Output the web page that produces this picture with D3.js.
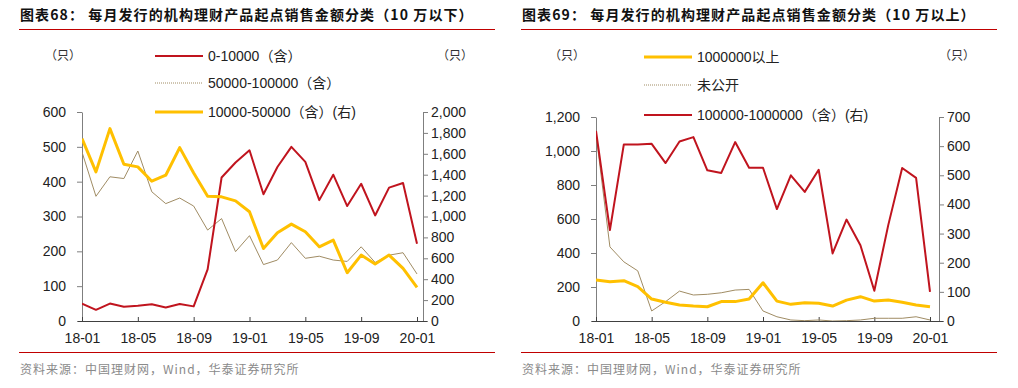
<!DOCTYPE html>
<html><head><meta charset="utf-8">
<script src="https://cdn.jsdelivr.net/npm/d3@7"></script>
<style>body{margin:0;background:#fff;}svg{display:block;}</style>
</head><body>
<svg id="c" width="1018" height="388"></svg>
<script>
const months = ["18-01","18-02","18-03","18-04","18-05","18-06","18-07","18-08","18-09","18-10","18-11","18-12",
  "19-01","19-02","19-03","19-04","19-05","19-06","19-07","19-08","19-09","19-10","19-11","19-12","20-01"];
const tickMonths = ["18-01","18-05","18-09","19-01","19-05","19-09","20-01"];

// Panel 68 (below 100k)
const s0_10000 = [50,32,50,41,44,48,39,49,42,148,412,455,490,364,442,500,457,347,420,330,394,303,383,396,222];
const s50000_100000 = [485,358,414,409,488,371,337,353,330,261,294,199,245,162,175,225,180,186,175,171,213,168,189,196,135];
const s10000_50000 = [1745,1427,1841,1500,1475,1338,1395,1659,1417,1194,1188,1150,1045,694,844,927,854,710,774,462,631,545,631,503,322];
const leftTicks68 = [0,100,200,300,400,500,600];
const rightTicks68 = [0,200,400,600,800,1000,1200,1400,1600,1800,2000];

// Panel 69 (above 100k)
const sAbove1m = [241,231,237,202,129,110,94,88,84,114,114,129,225,117,98,108,104,88,123,143,117,123,110,94,84];
const sUndisclosed = [1100,436,348,295,59,114,176,153,157,166,182,186,59,25,6,2,6,0,2,6,16,16,16,25,6];
const s100k_1m = [652,312,606,606,608,542,616,631,517,508,614,526,526,384,500,443,519,232,348,260,104,329,525,491,100];
const leftTicks69 = [0,200,400,600,800,1000,1200];
const rightTicks69 = [0,100,200,300,400,500,600,700];

const RED = "#C0141E", YEL = "#FFC000", BRN = "#A08C64";
const svg = d3.select("#c");
const fmt = d3.format(",");

function panel(o){
  const g = svg.append("g");
  // title
  g.append("text").attr("x", o.x0+1).attr("y", 20).attr("font-family","Noto Sans CJK SC").attr("font-weight","bold")
    .attr("font-size", 14).attr("letter-spacing", 1.1).attr("fill","#111").text(o.title);
  g.append("line").attr("x1", o.x0).attr("x2", o.x0+476).attr("y1", 29.5).attr("y2", 29.5).attr("stroke", "#C00000").attr("stroke-width", 1.2);
  g.append("line").attr("x1", o.x0).attr("x2", o.x0+476).attr("y1", 352.5).attr("y2", 352.5).attr("stroke", "#C00000").attr("stroke-width", 1.2);
  g.append("text").attr("x", o.x0+1).attr("y", 374).attr("font-family","Noto Sans CJK SC").attr("font-size", 12)
    .attr("fill","#8a8a8a").attr("letter-spacing", 1).text("资料来源：中国理财网，Wind，华泰证券研究所");

  const x = d3.scalePoint().domain(months).range([o.xl, o.xr]);
  const yl = d3.scaleLinear().domain([0, o.lmax]).range([321, o.top]);
  const yr = d3.scaleLinear().domain([0, o.rmax]).range([321, o.top]);

  const axL = g.append("g").attr("transform", `translate(${o.xl},0)`)
    .call(d3.axisLeft(yl).tickValues(o.lt).tickFormat(fmt).tickSize(5).tickPadding(11).tickSizeOuter(0));
  const axR = g.append("g").attr("transform", `translate(${o.ax2},0)`)
    .call(d3.axisRight(yr).tickValues(o.rt).tickFormat(fmt).tickSize(5).tickPadding(3).tickSizeOuter(0));
  [axL, axR].forEach(a => {
    a.select(".domain").attr("stroke", "#7f7f7f");
    a.selectAll(".tick line").attr("stroke", "#7f7f7f");
    a.selectAll("text").attr("font-family","Liberation Sans, Arial").attr("font-size", 14).attr("fill","#222");
  });
  const axB = g.append("g").attr("transform", `translate(0,321)`)
    .call(d3.axisBottom(x).tickValues(tickMonths).tickSize(-4).tickPadding(12).tickSizeOuter(0));
  axB.select(".domain").remove();
  axB.append("line").attr("x1", o.xl-4).attr("x2", o.ax2+4).attr("y1",0.5).attr("y2",0.5).attr("stroke","#404040");
  axB.selectAll(".tick line").attr("stroke", "#404040");
  axB.selectAll("text").attr("font-family","Liberation Sans, Arial").attr("font-size", 14).attr("fill","#222");

  // units
  g.append("text").attr("x", o.ux1).attr("y", 60).attr("text-anchor","middle").attr("font-family","Noto Sans CJK SC")
    .attr("font-size", 12).attr("fill","#333").text("（只）");
  g.append("text").attr("x", o.ux2).attr("y", 60).attr("text-anchor","middle").attr("font-family","Noto Sans CJK SC")
    .attr("font-size", 12).attr("fill","#333").text("（只）");

  const clip = "clip" + o.x0;
  g.append("clipPath").attr("id", clip).append("rect").attr("x", o.xl).attr("y", o.top-6).attr("width", o.ax2-o.xl).attr("height", 321-o.top+6);

  o.series.forEach(s => {
    const y = s.right ? yr : yl;
    g.append("path").datum(s.data).attr("clip-path", `url(#${clip})`)
      .attr("fill","none").attr("stroke", s.color).attr("stroke-width", s.w).attr("stroke-linejoin","round")
      .attr("d", d3.line().x((d,i)=>x(months[i])).y(d=>y(d)));
  });
  // legend
  o.legend.forEach((s, i) => {
    const yy = o.ly[i];
    g.append("line").attr("x1", o.lx).attr("x2", o.lx+48).attr("y1", yy).attr("y2", yy)
      .attr("stroke", s.color).attr("stroke-width", s.w).attr("stroke-dasharray", s.dash || null);
    g.append("text").attr("x", o.lx+53).attr("y", yy+5).attr("font-family","Liberation Sans, Noto Sans CJK SC")
      .attr("font-size", 14).attr("fill","#222").text(s.name);
  });
}

const ser68 = [
  {name:"0-10000（含）", data:s0_10000, color:RED, w:2},
  {name:"50000-100000（含）", data:s50000_100000, color:BRN, w:1, dash:"1,1"},
  {name:"10000-50000（含）(右)", data:s10000_50000, color:YEL, w:3, right:true}
];
panel({x0:19, title:"图表68：  每月发行的机构理财产品起点销售金额分类（10 万以下）",
  xl:82, xr:417, ax2:423, top:112, lmax:600, rmax:2000, lt:leftTicks68, rt:rightTicks68,
  ux1:63, ux2:455, lx:155, ly:[56,83,112],
  series:[ser68[1], ser68[0], ser68[2]], legend:ser68});

const ser69 = [
  {name:"1000000以上", data:sAbove1m, color:YEL, w:3},
  {name:"未公开", data:sUndisclosed, color:BRN, w:1, dash:"1,1"},
  {name:"100000-1000000（含）(右)", data:s100k_1m, color:RED, w:2, right:true}
];
panel({x0:521, title:"图表69：  每月发行的机构理财产品起点销售金额分类（10 万以上）",
  xl:596, xr:930, ax2:939, top:117, lmax:1200, rmax:700, lt:leftTicks69, rt:rightTicks69,
  ux1:567, ux2:957, lx:644, ly:[57,85,115],
  series:[ser69[1], ser69[0], ser69[2]], legend:ser69});
</script>
</body></html>
